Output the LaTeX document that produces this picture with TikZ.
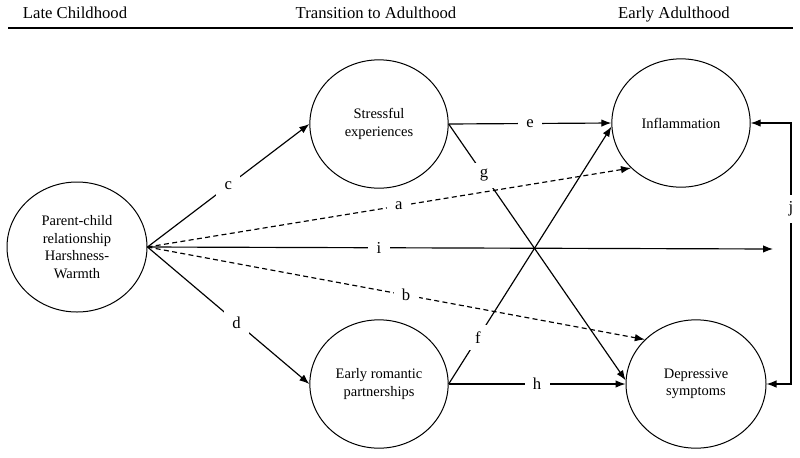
\documentclass[tikz,border=0pt]{standalone}
\usepackage{fontspec}
\setmainfont{Liberation Serif}
\usetikzlibrary{shapes.geometric,arrows.meta,positioning}
\def\CWidth{83pt}
\def\CHeight{77pt}

\begin{document}
\begin{tikzpicture}[x=0.6pt,y=-0.6pt,
	construct/.style={draw,ellipse,line width=0.6pt,inner sep=0pt,align=center,
		font=\fontsize{8.7}{10.5}\selectfont,minimum width=\CWidth,minimum height=\CHeight},
	link/.style={-{Latex[length=6pt,width=4.5pt]},line width=0.7pt},
	indirect/.style={link,dash pattern=on 3pt off 2pt},
	coef/.style={fill=white,inner xsep=5pt,inner ysep=4pt,font=\fontsize{10}{12}\selectfont},
	period/.style={anchor=base,font=\fontsize{10}{12}\selectfont}]
	\useasboundingbox (0,0) rectangle (800,457);
	% periods
	\node[period] (late) at (75,18) {Late Childhood};
	\node[period] (trans) at (376,18) {Transition to Adulthood};
	\node[period] (early) at (674,18) {Early Adulthood};
	\draw[line width=1.2pt] (8,28) -- (793,28);
	% constructs
	\node[construct,minimum width=84pt,minimum height=78pt] (parent) at (77,247) {Parent-child\\relationship\\Harshness-\\Warmth};
	\node[construct] (stress) at (379,124) {Stressful\\experiences};
	\node[construct] (romance) at (379,384) {Early romantic\\partnerships};
	\node[construct] (inflam) at (681,123) {Inflammation};
	\node[construct,minimum width=84pt] (depress) at (696,384) {Depressive\\symptoms};
	\coordinate (iend) at (773,249);
	\coordinate (jbend) at (791,123);
	% paths
	\draw[link] (parent.east) -- node[coef,pos=0.5] {c} (stress.west);
	\draw[link] (parent.east) -- node[coef,pos=0.55] {d} (romance.west);
	\draw[indirect] (parent.east) -- node[coef,pos=0.52] {a} (inflam.222);
	\draw[indirect] (parent.east) -- node[coef,pos=0.52] {b} (depress.139);
	\draw[link] (parent.east) -- node[coef,pos=0.37] {i} (iend);
	\draw[link] (stress.east) -- node[coef,pos=0.5] {e} (inflam.west);
	\draw[link] (stress.east) -- node[coef,pos=0.2] {g} (depress.177);
	\draw[link] (romance.east) -- node[coef,pos=0.18] {f} (inflam.183);
	\draw[link] (romance.east) -- node[coef,pos=0.5] {h} (depress.west);
	\draw[link,{Latex[length=6pt,width=4.5pt]}-{Latex[length=6pt,width=4.5pt]}]
		(inflam.east) -- (jbend) |- node[coef,pos=0.165] {j} (depress.east);
\end{tikzpicture}
\end{document}
